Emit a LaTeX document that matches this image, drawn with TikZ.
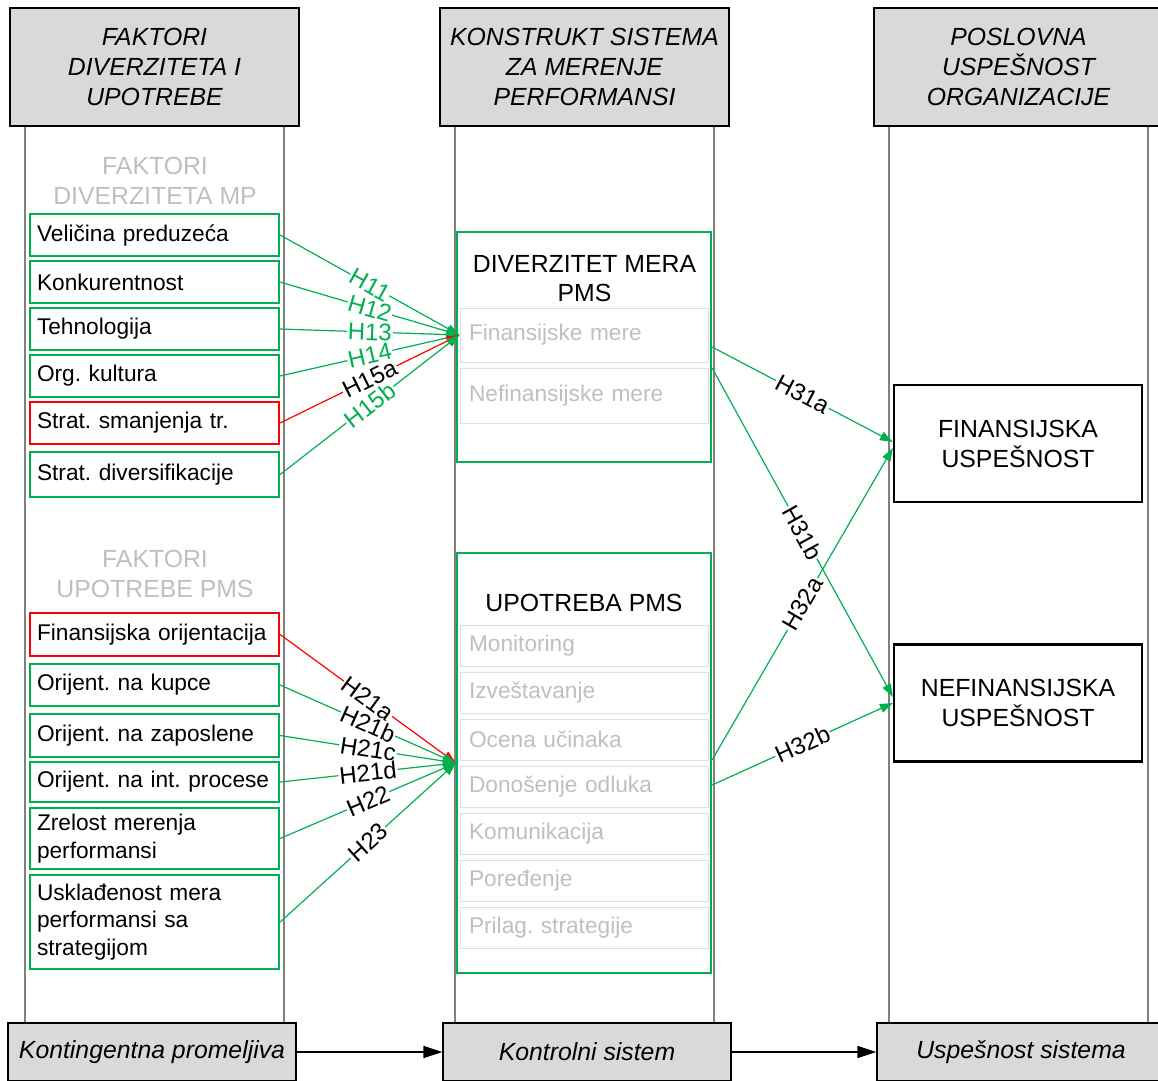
\documentclass[tikz,border=0pt]{standalone}
\usepackage{fontspec}
\setmainfont{Liberation Sans}
\usepackage{tikz}
\usetikzlibrary{arrows.meta, positioning, calc}
\frenchspacing
\hyphenpenalty=10000
\exhyphenpenalty=10000

\definecolor{headgray}{RGB}{217,217,217}
\definecolor{lanegray}{RGB}{128,128,128}
\definecolor{pmsgreen}{RGB}{0,176,80}
\definecolor{pmsred}{RGB}{255,0,0}
\definecolor{softgray}{RGB}{191,191,191}
\definecolor{rowgray}{RGB}{222,222,222}

\begin{document}
\begin{tikzpicture}[x=1pt, y=-1pt,
        lanehead/.style={draw, fill=headgray, line width=1.2pt, minimum width=289pt, minimum height=118pt, align=center, font=\fontsize{24.8}{30}\selectfont\itshape},
        lanefoot/.style={draw, fill=headgray, line width=1.2pt, minimum width=288pt, minimum height=58pt, font=\fontsize{24.8}{30}\selectfont\itshape},
        laneline/.style={draw=lanegray, line width=1.4pt},
        subhead/.style={text=softgray, align=center, font=\fontsize{24.8}{30}\selectfont},
        factor/.style={draw=pmsgreen, line width=2.2pt, text width=235pt, inner xsep=7pt, inner ysep=0pt, align=left, font=\fontsize{22.7}{27.5}\selectfont},
        redfactor/.style={factor, draw=pmsred},
        construct/.style={draw=pmsgreen, line width=2.2pt, minimum width=254pt},
        measure/.style={draw=rowgray, line width=1pt, minimum width=248pt, text width=230pt, inner xsep=9pt, align=left, text=softgray, font=\fontsize{22.7}{27.5}\selectfont},
        outcome/.style={draw, line width=2.2pt, minimum width=248pt, minimum height=117pt, align=center, font=\fontsize{24.8}{30}\selectfont},
        boxtitle/.style={align=center, font=\fontsize{24.8}{29}\selectfont},
        hyp/.style={-{Triangle[length=13pt,width=9pt]}, line width=1.2pt, draw=pmsgreen},
        hyplabel/.style={sloped, fill=white, inner sep=1pt, font=\fontsize{24}{24}\selectfont},
        flow/.style={-{Triangle[length=19pt,width=12pt]}, line width=1.6pt},
    ]
\useasboundingbox (0,0) rectangle (1158,1080);
\clip (0,0) rectangle (1158,1080);

% Lane headers
\node[lanehead] (head1) at (154.5,67) {FAKTORI\\DIVERZITETA I\\UPOTREBE};
\node[lanehead] (head2) at (584.5,67) {KONSTRUKT SISTEMA\\ZA MERENJE\\PERFORMANSI};
\node[lanehead] (head3) at (1018.5,67) {POSLOVNA\\USPEŠNOST\\ORGANIZACIJE};

% Lane borders
\foreach \h in {head1,head2,head3} {
  \draw[laneline] ([xshift=-129.5pt]\h.south) -- ++(0,897);
  \draw[laneline] ([xshift=129.5pt]\h.south) -- ++(0,897);
}

% Lane footers
\node[lanefoot] (foot1) at (152,1052) {Kontingentna promeljiva};
\node[lanefoot] (foot2) at (587,1052) {Kontrolni sistem};
\node[lanefoot] (foot3) at (1021,1052) {Uspešnost sistema};

% Diversity factors
\node[subhead] (divhead) at (155,181) {FAKTORI\\DIVERZITETA MP};
\node[factor, minimum height=42pt] (f1) at (154.5,235) {Veličina preduzeća};
\node[factor, minimum height=42pt] (f2) at (154.5,282) {Konkurentnost};
\node[factor, minimum height=42pt] (f3) at (154.5,329) {Tehnologija};
\node[factor, minimum height=42pt] (f4) at (154.5,376) {Org. kultura};
\node[redfactor, minimum height=42pt] (f5) at (154.5,423) {Strat. smanjenja tr.};
\node[factor, minimum height=45pt] (f6) at (154.5,474.5) {Strat. diversifikacije};

% Use factors
\node[subhead] (usehead) at (155,574) {FAKTORI\\UPOTREBE PMS};
\node[redfactor, minimum height=43pt] (u1) at (154.5,634.5) {Finansijska orijentacija};
\node[factor, minimum height=42pt] (u2) at (154.5,685) {Orijent. na kupce};
\node[factor, minimum height=43pt] (u3) at (154.5,735.5) {Orijent. na zaposlene};
\node[factor, minimum height=40pt] (u4) at (154.5,782) {Orijent. na int. procese};
\node[factor, minimum height=61pt] (u5) at (154.5,838.5) {Zrelost merenja\\performansi};
\node[factor, minimum height=94pt] (u6) at (154.5,922) {Usklađenost mera\\performansi sa\\strategijom};

% Measure diversity construct
\node[construct, minimum height=230pt] (divbox) at (584,347) {};
\node[boxtitle] (divtitle) at (584.5,278.5) {DIVERZITET MERA\\PMS};
\node[measure, minimum height=54pt] (finrow) at (584,335) {Finansijske mere};
\node[measure, minimum height=55pt] (nefinrow) at (584,395.5) {Nefinansijske mere};

% PMS use construct
\node[construct, minimum height=420pt] (usebox) at (584,763) {};
\node[boxtitle] (usetitle) at (584,603) {UPOTREBA PMS};
\foreach \lbl [count=\i] in {Monitoring, Izveštavanje, Ocena učinaka, Donošenje odluka, Komunikacija, Poređenje, Prilag. strategije}
  \node[measure, minimum height=41pt] (row\i) at (584,598.5+47*\i) {\lbl};

% Organisational performance
\node[outcome] (finres) at (1018,443.5) {FINANSIJSKA\\USPEŠNOST};
\node[outcome] (nefres) at (1018,703) {NEFINANSIJSKA\\USPEŠNOST};

% Hypotheses H1
\draw[hyp] (f1.east) -- node[hyplabel, text=pmsgreen] {H11} (finrow.west);
\draw[hyp] (f2.east) -- node[hyplabel, text=pmsgreen] {H12} (finrow.west);
\draw[hyp] (f3.east) -- node[hyplabel, text=pmsgreen] {H13} (finrow.west);
\draw[hyp] (f4.east) -- node[hyplabel, text=pmsgreen] {H14} (finrow.west);
\draw[hyp, draw=pmsred] (f5.east) -- node[hyplabel] {H15a} (finrow.west);
\draw[hyp] (f6.east) -- node[hyplabel, text=pmsgreen] {H15b} (finrow.west);

% Hypotheses H2
\draw[hyp, draw=pmsred] (u1.east) -- node[hyplabel] {H21a} (usebox.west);
\draw[hyp] (u2.east) -- node[hyplabel] {H21b} (usebox.west);
\draw[hyp] (u3.east) -- node[hyplabel] {H21c} (usebox.west);
\draw[hyp] (u4.east) -- node[hyplabel] {H21d} (usebox.west);
\draw[hyp] (u5.east) -- node[hyplabel] {H22} (usebox.west);
\draw[hyp] (u6.east) -- node[hyplabel] {H23} (usebox.west);

% Hypotheses H3
\draw[hyp] (divbox.east) -- node[hyplabel] {H31a} ([yshift=1.5pt]finres.west);
\draw[hyp] ([yshift=-21pt]divbox.east) -- node[hyplabel] {H31b} ([yshift=6pt]nefres.west);
\draw[hyp] ([yshift=3pt]usebox.east) -- node[hyplabel] {H32a} ([yshift=-4.5pt]finres.west);
\draw[hyp] ([yshift=-22pt]usebox.east) -- node[hyplabel] {H32b} (nefres.west);

% Footer flow
\draw[flow] (foot1.east) -- (foot2.west);
\draw[flow] (foot2.east) -- (foot3.west);
\end{tikzpicture}
\end{document}
